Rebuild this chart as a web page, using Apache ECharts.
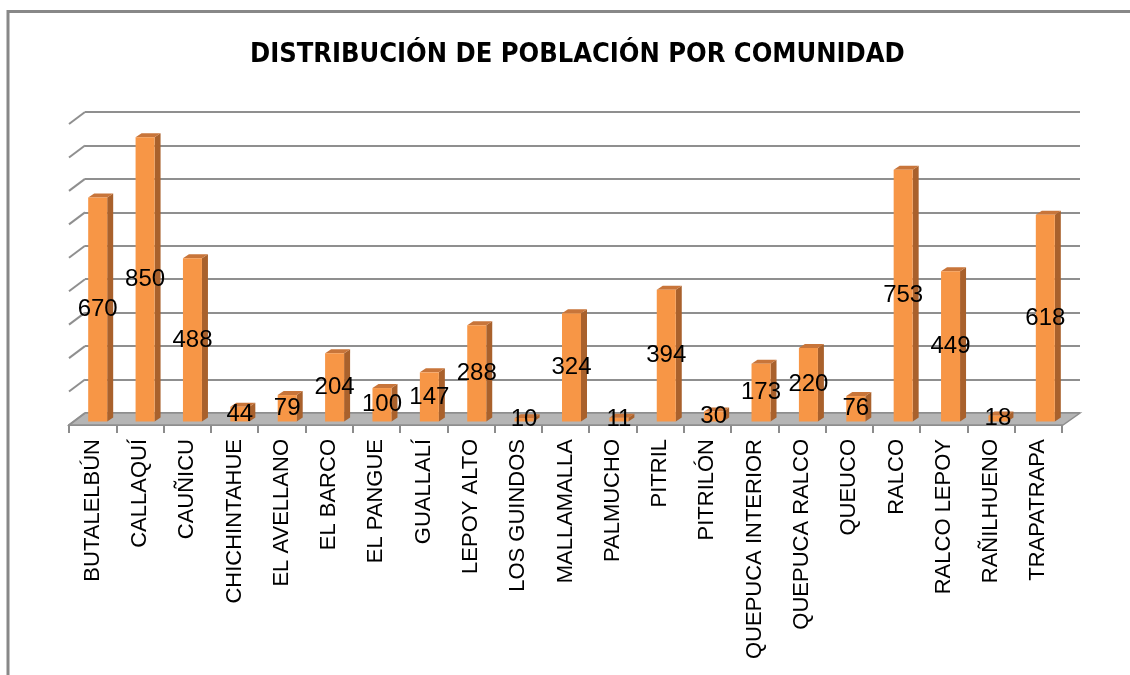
<!DOCTYPE html>
<html>
<head>
<meta charset="utf-8">
<script src="https://cdn.jsdelivr.net/npm/echarts@6/dist/echarts.min.js"></script>
<style>
  html, body { margin: 0; padding: 0; background: #fff; }
  #chart { width: 1130px; height: 675px; }
</style>
</head>
<body>
<div id="chart"></div>
<script>
// data
var comunidades = ['BUTALELBÚN', 'CALLAQUÍ', 'CAUÑICU', 'CHICHINTAHUE', 'EL AVELLANO', 'EL BARCO',
  'EL PANGUE', 'GUALLALÍ', 'LEPOY ALTO', 'LOS GUINDOS', 'MALLAMALLA', 'PALMUCHO', 'PITRIL',
  'PITRILÓN', 'QUEPUCA INTERIOR', 'QUEPUCA RALCO', 'QUEUCO', 'RALCO', 'RALCO LEPOY',
  'RAÑILHUENO', 'TRAPATRAPA'];
var poblacion = [670, 850, 488, 44, 79, 204, 100, 147, 288, 10, 324, 11, 394, 30, 173, 220, 76, 753, 449, 18, 618];
var yTicks = [0, 100, 200, 300, 400, 500, 600, 700, 800, 900];

var myChart = echarts.init(document.getElementById('chart'));

// 3d look: bar front face shifted from back wall, plus a depth vector
var shiftX = -11, shiftY = 8.5, barW = 19, depX = 6, depY = -4;

function renderBar(params, api) {
    var i = api.value(0);
    var v = api.value(1);
    var top = api.coord([i, v]);
    var base = api.coord([i, 0]);
    var x0 = top[0] + shiftX - barW / 2;
    var x1 = x0 + barW;
    var yt = top[1] + shiftY;
    var yb = base[1] + shiftY;
    return {
        type: 'group',
        children: [
            {
                type: 'polygon',
                shape: { points: [[x1, yt], [x1 + depX, yt + depY], [x1 + depX, yb + depY], [x1, yb]] },
                style: { fill: '#a9612c' }
            },
            {
                type: 'polygon',
                shape: { points: [[x0, yt], [x0 + depX, yt + depY], [x1 + depX, yt + depY], [x1, yt]] },
                style: { fill: '#c8753a' }
            },
            {
                type: 'rect',
                shape: { x: x0, y: yt, width: barW, height: yb - yt },
                style: { fill: '#f79646' }
            },
            {
                type: 'text',
                z2: 10,
                style: {
                    text: String(v),
                    x: x0 + barW / 2,
                    y: (yt + yb) / 2,
                    align: 'center',
                    verticalAlign: 'middle',
                    fill: '#000',
                    font: '24px "Liberation Sans", Arial, sans-serif'
                }
            }
        ]
    };
}

var option = {
    animation: false,
    title: {
        text: 'DISTRIBUCIÓN DE POBLACIÓN POR COMUNIDAD',
        left: 245,
        top: 36,
        textStyle: {
            fontFamily: '"Liberation Sans Narrow", "DejaVu Sans Condensed", sans-serif',
            fontWeight: 'bold',
            fontSize: 27,
            color: '#000'
        }
    },
    grid: [
        { left: 85, right: 50, top: 112, bottom: 262 },
        { left: 69, right: 68, top: 124, bottom: 250 }
    ],
    xAxis: [
        {
            type: 'category',
            gridIndex: 0,
            data: comunidades,
            show: false
        },
        {
            type: 'category',
            gridIndex: 1,
            data: comunidades,
            axisLine: { lineStyle: { color: '#8c8c8c', width: 2 } },
            axisTick: { show: true, length: 8, lineStyle: { color: '#8c8c8c', width: 2 } },
            axisLabel: {
                rotate: 90,
                margin: 14,
                interval: 0,
                color: '#000',
                fontSize: 22,
                fontFamily: '"Liberation Sans", Arial, sans-serif'
            }
        }
    ],
    yAxis: [
        {
            type: 'value',
            gridIndex: 0,
            min: 0,
            max: 900,
            interval: 100,
            axisLine: { show: false },
            axisTick: { show: false },
            axisLabel: { show: false },
            splitLine: { lineStyle: { color: '#8f8f8f', width: 2 } }
        },
        {
            type: 'value',
            gridIndex: 1,
            min: 0,
            max: 900,
            show: false,
            splitLine: { show: false }
        }
    ],
    series: [
        {
            type: 'custom',
            xAxisIndex: 0,
            yAxisIndex: 0,
            renderItem: renderBar,
            encode: { x: 0, y: 1 },
            z: 5,
            data: poblacion.map(function (v, i) { return [i, v]; })
        }
    ]
};
myChart.setOption(option);

// floor, left wall slants and outer frame
var g = [];
g.push({
    type: 'rect',
    shape: { x: 8, y: 11.5, width: 1140, height: 700 },
    style: { fill: 'none', stroke: '#888', lineWidth: 3 },
    z: 0
});
g.push({
    type: 'polygon',
    shape: { points: [[69, 425], [85, 413], [1080, 413], [1063, 425]] },
    style: { fill: '#b5b5b5', stroke: '#8e8e8e', lineWidth: 1.5 },
    z: 1
});
yTicks.forEach(function (t) {
    var py = myChart.convertToPixel({ yAxisIndex: 0 }, t);
    g.push({
        type: 'line',
        shape: { x1: 69, y1: py + 12, x2: 85, y2: py },
        style: { stroke: '#8f8f8f', lineWidth: 2 },
        z: 1
    });
});
myChart.setOption({ graphic: g });
</script>
</body>
</html>
